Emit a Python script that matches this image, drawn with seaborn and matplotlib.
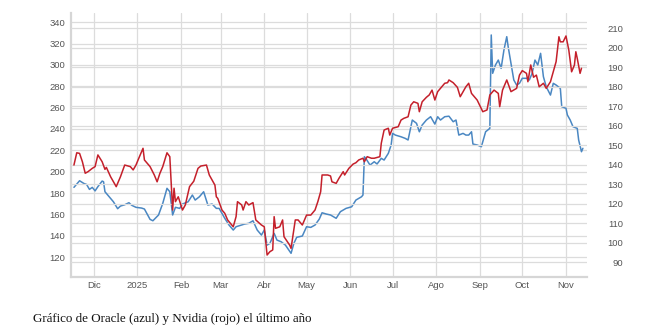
import pandas as pd
import matplotlib.pyplot as plt
import seaborn as sns

# Oracle (azul, eje izquierdo)
oracle_fechas = [
    '2024-11-17', '2024-11-21', '2024-11-24', '2024-11-26', '2024-11-28', '2024-11-30',
    '2024-12-02', '2024-12-04', '2024-12-07', '2024-12-08', '2024-12-09', '2024-12-13',
    '2024-12-15', '2024-12-18', '2024-12-20', '2024-12-23', '2024-12-26', '2024-12-28',
    '2024-12-31', '2025-01-04', '2025-01-06', '2025-01-10', '2025-01-12', '2025-01-16',
    '2025-01-19', '2025-01-22', '2025-01-24', '2025-01-26', '2025-01-28', '2025-01-31',
    '2025-02-02', '2025-02-06', '2025-02-09', '2025-02-11', '2025-02-14', '2025-02-17',
    '2025-02-20', '2025-02-23', '2025-02-26', '2025-02-28', '2025-03-04', '2025-03-07',
    '2025-03-10', '2025-03-12', '2025-03-16', '2025-03-18', '2025-03-21', '2025-03-24',
    '2025-03-27', '2025-03-30', '2025-04-01', '2025-04-03', '2025-04-05', '2025-04-08',
    '2025-04-10', '2025-04-13', '2025-04-16', '2025-04-20', '2025-04-22', '2025-04-24',
    '2025-04-28', '2025-05-01', '2025-05-04', '2025-05-07', '2025-05-10', '2025-05-12',
    '2025-05-15', '2025-05-18', '2025-05-22', '2025-05-25', '2025-05-29', '2025-06-02',
    '2025-06-05', '2025-06-09', '2025-06-10', '2025-06-11', '2025-06-12', '2025-06-15',
    '2025-06-18', '2025-06-20', '2025-06-23', '2025-06-25', '2025-06-28', '2025-06-30',
    '2025-07-01', '2025-07-03', '2025-07-07', '2025-07-10', '2025-07-12', '2025-07-15',
    '2025-07-18', '2025-07-20', '2025-07-22', '2025-07-25', '2025-07-28', '2025-07-31',
    '2025-08-02', '2025-08-04', '2025-08-07', '2025-08-10', '2025-08-13', '2025-08-15',
    '2025-08-17', '2025-08-20', '2025-08-22', '2025-08-24', '2025-08-26', '2025-08-27',
    '2025-08-30', '2025-09-02', '2025-09-03', '2025-09-05', '2025-09-08', '2025-09-09',
    '2025-09-10', '2025-09-12', '2025-09-14', '2025-09-16', '2025-09-18', '2025-09-20',
    '2025-09-21', '2025-09-23', '2025-09-25', '2025-09-27', '2025-09-29', '2025-10-01',
    '2025-10-04', '2025-10-06', '2025-10-08', '2025-10-10', '2025-10-12', '2025-10-14',
    '2025-10-16', '2025-10-18', '2025-10-21', '2025-10-23', '2025-10-25', '2025-10-28',
    '2025-10-29', '2025-11-01', '2025-11-02', '2025-11-04', '2025-11-06', '2025-11-09',
    '2025-11-10', '2025-11-12', '2025-11-13']
oracle_precio = [
    185.3, 191.5, 189.0, 188.0, 183.4, 185.3,
    182.0, 186.0, 191.2, 190.6, 181.2, 175.0,
    171.8, 165.3, 167.8, 169.0, 170.9, 168.5,
    166.6, 165.9, 165.0, 155.3, 154.0, 159.4,
    170.3, 184.4, 181.2, 159.4, 166.6, 165.6,
    169.7, 171.8, 178.1, 173.4, 176.5, 181.2,
    168.7, 169.7, 165.6, 165.6, 156.3, 150.0,
    145.3, 148.4, 150.0, 150.9, 151.6, 154.0,
    145.3, 140.6, 145.3, 131.2, 132.8, 142.2,
    135.9, 134.3, 131.2, 123.5, 132.8, 138.5,
    139.7, 148.4, 147.8, 150.0, 155.5, 161.5,
    160.3, 159.4, 156.3, 162.5, 165.6, 167.1,
    173.4, 176.5, 178.1, 214.0, 212.5, 206.2,
    209.3, 207.2, 212.5, 210.9, 217.2, 225.0,
    235.9, 234.3, 232.7, 231.2, 229.7, 248.4,
    245.3, 237.4, 243.7, 248.4, 251.5, 244.6,
    251.5, 248.4, 251.5, 252.0, 246.8, 248.4,
    234.3, 235.9, 234.3, 234.3, 237.4, 225.9,
    225.0, 223.4, 228.1, 237.4, 240.6, 328.1,
    292.2, 300.0, 304.6, 296.8, 314.0, 326.5,
    317.1, 301.5, 285.9, 281.2, 282.8, 287.5,
    287.5, 285.9, 292.2, 304.6, 300.0, 310.9,
    289.0, 279.6, 271.8, 282.8, 281.2, 278.1,
    260.9, 259.4, 253.1, 248.4, 242.1, 240.6,
    229.7, 218.7, 221.9]

# Nvidia (rojo, eje derecho)
nvidia_fechas = [
    '2024-11-17', '2024-11-19', '2024-11-21', '2024-11-23', '2024-11-25', '2024-11-27',
    '2024-11-30', '2024-12-02', '2024-12-04', '2024-12-07', '2024-12-09', '2024-12-10',
    '2024-12-13', '2024-12-17', '2024-12-20', '2024-12-23', '2024-12-27', '2024-12-29',
    '2024-12-31', '2025-01-02', '2025-01-05', '2025-01-06', '2025-01-10', '2025-01-13',
    '2025-01-15', '2025-01-17', '2025-01-19', '2025-01-22', '2025-01-24', '2025-01-25',
    '2025-01-26', '2025-01-27', '2025-01-28', '2025-01-30', '2025-02-02', '2025-02-04',
    '2025-02-07', '2025-02-10', '2025-02-13', '2025-02-15', '2025-02-19', '2025-02-21',
    '2025-02-25', '2025-02-26', '2025-02-27', '2025-03-02', '2025-03-04', '2025-03-06',
    '2025-03-09', '2025-03-10', '2025-03-12', '2025-03-13', '2025-03-16', '2025-03-17',
    '2025-03-19', '2025-03-21', '2025-03-24', '2025-03-26', '2025-03-30', '2025-04-01',
    '2025-04-03', '2025-04-05', '2025-04-07', '2025-04-08', '2025-04-09', '2025-04-12',
    '2025-04-14', '2025-04-15', '2025-04-19', '2025-04-20', '2025-04-23', '2025-04-25',
    '2025-04-28', '2025-05-01', '2025-05-04', '2025-05-07', '2025-05-09', '2025-05-11',
    '2025-05-12', '2025-05-16', '2025-05-18', '2025-05-19', '2025-05-22', '2025-05-24',
    '2025-05-27', '2025-05-28', '2025-05-31', '2025-06-03', '2025-06-05', '2025-06-07',
    '2025-06-10', '2025-06-11', '2025-06-13', '2025-06-16', '2025-06-18', '2025-06-22',
    '2025-06-23', '2025-06-25', '2025-06-28', '2025-06-29', '2025-07-01', '2025-07-05',
    '2025-07-07', '2025-07-09', '2025-07-12', '2025-07-14', '2025-07-16', '2025-07-19',
    '2025-07-20', '2025-07-22', '2025-07-25', '2025-07-27', '2025-07-29', '2025-07-31',
    '2025-08-02', '2025-08-04', '2025-08-07', '2025-08-09', '2025-08-10', '2025-08-13',
    '2025-08-16', '2025-08-18', '2025-08-22', '2025-08-24', '2025-08-26', '2025-08-30',
    '2025-09-03', '2025-09-06', '2025-09-08', '2025-09-11', '2025-09-14', '2025-09-15',
    '2025-09-17', '2025-09-20', '2025-09-23', '2025-09-27', '2025-09-29', '2025-10-01',
    '2025-10-04', '2025-10-05', '2025-10-07', '2025-10-09', '2025-10-11', '2025-10-13',
    '2025-10-16', '2025-10-18', '2025-10-21', '2025-10-23', '2025-10-25', '2025-10-27',
    '2025-10-28', '2025-10-30', '2025-11-01', '2025-11-03', '2025-11-05', '2025-11-07',
    '2025-11-08', '2025-11-09', '2025-11-11', '2025-11-12']
nvidia_precio = [
    139.8, 146.1, 145.8, 141.5, 135.6, 136.4,
    138.1, 139.0, 145.0, 141.5, 137.6, 138.6,
    133.8, 128.7, 133.8, 139.8, 139.0, 137.3,
    139.8, 143.3, 148.4, 142.4, 139.0, 134.7,
    131.2, 135.6, 139.0, 146.1, 144.1, 130.4,
    116.7, 127.9, 121.0, 123.5, 116.7, 119.3,
    128.7, 131.5, 138.1, 139.3, 139.8, 134.7,
    129.5, 123.5, 122.7, 116.7, 115.0, 111.6,
    109.0, 108.1, 113.3, 121.0, 119.3, 116.7,
    121.0, 119.3, 120.5, 111.6, 109.0, 108.1,
    93.6, 95.3, 96.2, 113.3, 107.3, 108.1,
    111.6, 103.0, 98.7, 97.0, 111.6, 111.6,
    109.0, 114.1, 114.1, 116.7, 121.0, 126.1,
    134.7, 134.7, 134.2, 131.2, 130.4, 133.0,
    136.4, 134.7, 138.1, 140.3, 141.0, 142.4,
    143.3, 141.5, 144.1, 143.3, 143.3, 144.1,
    151.0, 157.8, 158.7, 155.2, 158.7, 159.5,
    162.9, 163.8, 164.6, 170.6, 172.3, 171.5,
    167.2, 172.3, 174.6, 175.8, 178.3, 173.2,
    177.5, 179.2, 181.8, 182.1, 183.5, 182.1,
    179.7, 174.9, 180.0, 181.8, 176.6, 173.2,
    167.2, 168.1, 175.8, 178.3, 176.6, 169.8,
    178.3, 183.5, 177.5, 179.2, 186.0, 188.3,
    186.9, 182.6, 191.2, 184.9, 186.0, 180.0,
    181.8, 179.2, 182.6, 187.7, 192.9, 205.7,
    203.1, 203.1, 206.1, 198.9, 187.7, 191.2,
    198.0, 194.6, 186.9, 189.5]

meses_fechas = ['2024-12-01', '2025-01-01', '2025-02-01', '2025-03-01', '2025-04-01', '2025-05-01',
                '2025-06-01', '2025-07-01', '2025-08-01', '2025-09-01', '2025-10-01', '2025-11-01']
meses_etiquetas = ['Dic', '2025', 'Feb', 'Mar', 'Abr', 'May', 'Jun', 'Jul', 'Ago', 'Sep', 'Oct', 'Nov']
ticks_izq = [120, 140, 160, 180, 200, 220, 240, 260, 280, 300, 320, 340]
ticks_der = [90, 100, 110, 120, 130, 140, 150, 160, 170, 180, 190, 200, 210]

oracle = pd.DataFrame({'fecha': pd.to_datetime(oracle_fechas), 'precio': oracle_precio})
nvidia = pd.DataFrame({'fecha': pd.to_datetime(nvidia_fechas), 'precio': nvidia_precio})

sns.set_theme(style='white')
plt.rcParams['font.family'] = ['Liberation Sans', 'DejaVu Sans']

fig = plt.figure(figsize=(6.62, 3.31), dpi=100)
ax = fig.add_axes([71 / 662, 1 - 277 / 331, 516 / 662, 264 / 331])
ax2 = ax.twinx()

color_grid = '#dcdcdc'
color_texto = '#555555'

sns.lineplot(data=oracle, x='fecha', y='precio', ax=ax, color='#4a87c2',
             linewidth=1.1, estimator=None, sort=False)
sns.lineplot(data=nvidia, x='fecha', y='precio', ax=ax2, color='#c4202b',
             linewidth=1.1, estimator=None, sort=False)

ax.set_xlim(pd.Timestamp('2024-11-14 22:00'), pd.Timestamp('2025-11-15 22:00'))
ax.set_ylim(101.3, 348.7)
ax2.set_ylim(82.3, 217.9)

ax.set_xticks(pd.to_datetime(meses_fechas))
ax.set_xticklabels(meses_etiquetas)
ax.set_yticks(ticks_izq)
ax2.set_yticks(ticks_der)

ax.grid(True, axis='both', color=color_grid, linewidth=0.9)
ax2.grid(True, axis='y', color=color_grid, linewidth=0.9)
ax2.grid(False, axis='x')

for a in (ax, ax2):
    a.set_xlabel('')
    a.set_ylabel('')
    for lado in ['top', 'right', 'left', 'bottom']:
        a.spines[lado].set_visible(False)
for lado in ['left', 'bottom']:
    ax.spines[lado].set_visible(True)
    ax.spines[lado].set_color('#d6d6d6')
    ax.spines[lado].set_linewidth(1.6)

ax.tick_params(axis='x', length=0, pad=3, labelsize=6.8, labelcolor=color_texto)
ax.tick_params(axis='y', length=0, pad=4, labelsize=6.8, labelcolor=color_texto)
ax2.tick_params(axis='y', length=0, pad=26, labelsize=6.8, labelcolor=color_texto)
for t in ax2.get_yticklabels():
    t.set_horizontalalignment('right')

fig.text(33 / 662, 1 - 322 / 331, 'Gráfico de Oracle (azul) y Nvidia (rojo) el último año',
         fontfamily='Liberation Serif', fontsize=9.4, color='#111111', va='baseline')

plt.savefig('out.png', dpi=100)
plt.close()
